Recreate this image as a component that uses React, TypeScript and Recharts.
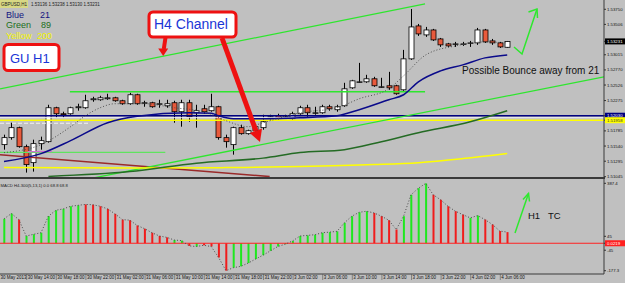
import { ComposedChart, Bar, Line, XAxis, YAxis, ReferenceLine } from 'recharts'

const FONT = '"Liberation Sans", Arial, sans-serif'
const BG = '#c0c0c0'

// GBPUSD H1 candles, bar 0 = 30 May 11:00
const open = [
  1.51563, 1.51676, 1.51837, 1.5153, 1.51272, 1.51579, 1.51611, 1.52159, 1.52062, 1.52062,
  1.52159, 1.52159, 1.52288, 1.52288, 1.52304, 1.5232, 1.52272, 1.52224, 1.52369, 1.5224,
  1.5224, 1.52224, 1.52191, 1.5224, 1.52095, 1.5224, 1.52078, 1.52143, 1.52111, 1.52175,
  1.51676, 1.51563, 1.51837, 1.5174, 1.51788, 1.51837, 1.52014, 1.5203, 1.52014, 1.51982,
  1.52062, 1.52159, 1.52078, 1.52078, 1.52175, 1.52127, 1.52191, 1.52481, 1.52578, 1.52578,
  1.52627, 1.52498, 1.52514, 1.52514, 1.52449, 1.52949, 1.53481, 1.53336, 1.53416, 1.53271,
  1.53191, 1.53191, 1.53191, 1.53207, 1.53207, 1.53416, 1.53239, 1.53207, 1.53136,
]
const high = [
  1.51724, 1.51917, 1.51853, 1.51563, 1.51643, 1.51692, 1.52207, 1.52175, 1.52095, 1.52175,
  1.52224, 1.52369, 1.52336, 1.52352, 1.52385, 1.52336, 1.52288, 1.52401, 1.52385, 1.52272,
  1.52256, 1.52288, 1.52288, 1.52272, 1.52288, 1.52288, 1.52207, 1.52207, 1.52385, 1.52191,
  1.51724, 1.51853, 1.51885, 1.51804, 1.51885, 1.52046, 1.52046, 1.52062, 1.52046, 1.52095,
  1.52191, 1.52207, 1.52175, 1.52207, 1.52207, 1.52207, 1.52562, 1.5261, 1.52884, 1.52691,
  1.52659, 1.52643, 1.52739, 1.5253, 1.53094, 1.53755, 1.53513, 1.53465, 1.53433, 1.53287,
  1.53207, 1.53223, 1.53223, 1.53239, 1.53449, 1.53433, 1.53271, 1.53223, 1.53238,
]
const low = [
  1.51482, 1.51643, 1.51514, 1.51111, 1.51127, 1.51482, 1.51595, 1.51998, 1.51998, 1.52046,
  1.52111, 1.52143, 1.52256, 1.52272, 1.52288, 1.52256, 1.52207, 1.52207, 1.52207, 1.52175,
  1.52159, 1.52159, 1.52159, 1.51917, 1.51853, 1.51933, 1.51837, 1.52062, 1.52095, 1.51643,
  1.51514, 1.51401, 1.51724, 1.51724, 1.51756, 1.51804, 1.51966, 1.51966, 1.51982, 1.51966,
  1.52046, 1.52014, 1.52046, 1.52062, 1.52111, 1.52095, 1.52175, 1.52465, 1.52562, 1.52562,
  1.52498, 1.52481, 1.52449, 1.52369, 1.52433, 1.52933, 1.5332, 1.53304, 1.53239, 1.53142,
  1.53142, 1.53142, 1.53158, 1.53142, 1.53175, 1.53207, 1.53175, 1.53126, 1.5313,
]
const close = [
  1.51676, 1.51837, 1.5153, 1.5124, 1.51579, 1.51627, 1.52159, 1.52062, 1.52046, 1.52159,
  1.52175, 1.52272, 1.52304, 1.5232, 1.5232, 1.52272, 1.52224, 1.52369, 1.52224, 1.5224,
  1.52175, 1.52224, 1.52224, 1.52095, 1.5224, 1.52014, 1.52111, 1.52095, 1.52175, 1.51676,
  1.51611, 1.51837, 1.5174, 1.51788, 1.51853, 1.51933, 1.52014, 1.51982, 1.52014, 1.52062,
  1.52159, 1.52078, 1.52078, 1.52175, 1.52143, 1.52175, 1.52465, 1.52594, 1.52578, 1.52627,
  1.52514, 1.52498, 1.52481, 1.52385, 1.52949, 1.53465, 1.53352, 1.53416, 1.53255, 1.53175,
  1.53158, 1.53191, 1.53191, 1.53207, 1.53416, 1.53223, 1.53207, 1.53142, 1.53231,
]

// moving averages, read at a few bars and joined
const blueAt = [0, 5, 9, 14, 18, 25, 28, 29, 31, 35, 40, 45, 48, 52, 54, 56, 59, 62, 65, 68]
const blueMA = [
  1.51289, 1.51418, 1.51627, 1.51917, 1.52022, 1.52078, 1.5207, 1.5203, 1.51982, 1.51982,
  1.51998, 1.5203, 1.52127, 1.52288, 1.52369, 1.52578, 1.52755, 1.52852, 1.52965, 1.53013,
]
const greenAt = [6, 17, 26, 35, 40, 46, 51, 56, 63, 68]
const greenMA = [1.5105, 1.51127, 1.51264, 1.51345, 1.51434, 1.51482, 1.51611, 1.51756, 1.51933, 1.52111]
const yellowAt = [0, 18, 30, 40, 50, 56, 62, 68]
const yellowMA = [1.51192, 1.51184, 1.51192, 1.51208, 1.5124, 1.51272, 1.51337, 1.51418]
const fastAt = [0, 5, 9, 11, 13, 15, 19, 23, 27, 30, 33, 35, 40, 45, 48, 52, 54, 57, 61, 65, 68]
const fastMA = [
  1.51434, 1.51563, 1.51853, 1.5203, 1.52159, 1.52224, 1.52224, 1.52159, 1.52095, 1.51949,
  1.51853, 1.51917, 1.52078, 1.52159, 1.52304, 1.52465, 1.52675, 1.53013, 1.53158, 1.53223, 1.53207,
]

// MACD H4 histogram, 1 = green bar, 0 = red bar
const macd = [
  158, 192, 153, 47, 58, 68, 175, 213, 222, 239,
  245, 251, 249, 239, 222, 190, 153, 149, 115, 94,
  68, 47, 38, 21, 17, -17, -21, -13, -21, -92,
  -177, -158, -149, -128, -102, -77, -49, -21, -6, 15,
  47, 51, 55, 68, 72, 77, 132, 175, 200, 207,
  196, 175, 149, 89, 175, 313, 356, 387, 313, 281,
  239, 207, 185, 164, 179, 153, 121, 79, 72,
]
const macdGreen = [
  1, 1, 0, 1, 1, 1, 1, 1, 1, 1,
  1, 0, 0, 0, 0, 0, 0, 0, 0, 0,
  0, 0, 0, 1, 1, 0, 1, 0, 0, 0,
  0, 1, 1, 1, 1, 1, 1, 1, 1, 1,
  1, 1, 1, 1, 1, 1, 1, 1, 1, 1,
  0, 0, 0, 0, 1, 1, 1, 1, 0, 0,
  0, 0, 0, 1, 1, 0, 0, 0, 0,
]

const priceTicks = [1.5375, 1.53506, 1.53015, 1.5277, 1.52526, 1.52275, 1.51785, 1.5154, 1.51295, 1.51045]
const lastPrice = 1.53231
const blueLevel = 1.5203
const yellowLevel = 1.51958
const macdTicks = [387.4, 45, 0, -45, -177.3]
const timeAt = [-0.54, 3, 7, 11, 15, 19, 23, 27, 31, 35, 39, 43, 47, 51, 55, 59, 63, 67]
const timeLabels = [
  '30 May 2013', '30 May 14:00', '30 May 18:00', '30 May 22:00', '31 May 02:00', '31 May 06:00',
  '31 May 10:00', '31 May 14:00', '31 May 18:00', '31 May 22:00', '3 Jun 02:00', '3 Jun 06:00',
  '3 Jun 10:00', '3 Jun 14:00', '3 Jun 18:00', '3 Jun 22:00', '4 Jun 02:00', '4 Jun 06:00',
]

// drawn objects (bar index, price)
const chanUpper = [[-0.54, 1.52465], [56.9, 1.53836]]
const chanLower = [[12.3, 1.5103], [81.08, 1.52659]]
const flatGreen = [[8.9, 1.52417], [56.9, 1.52417]]
const flatLight = [[-0.54, 1.51438], [21.8, 1.51438]]
const flatPink = [[3.2, 1.5145], [6.5, 1.5145]]
const maroonLine = [[-0.54, 1.51401], [35.9, 1.51047]]
const dashedWhite = [[-0.54, 1.51909], [11.6, 1.51909]]

const X_DOMAIN = [-0.54, 81.08]

const priceData = open.map((o, i) => ({
  i,
  open: o,
  high: high[i],
  low: low[i],
  close: close[i],
  blue: null,
  green: null,
  yellow: null,
  fast: null,
}))
blueAt.forEach((k, j) => { priceData[k].blue = blueMA[j] })
greenAt.forEach((k, j) => { priceData[k].green = greenMA[j] })
yellowAt.forEach((k, j) => { priceData[k].yellow = yellowMA[j] })
fastAt.forEach((k, j) => { priceData[k].fast = fastMA[j] })

const macdData = macd.map((v, i) => ({ i, macd: v, up: macdGreen[i] === 1 }))

const seg = (s) => [{ x: s[0][0], y: s[0][1] }, { x: s[1][0], y: s[1][1] }]

function Candle(props) {
  const { x, y, width, height, payload } = props
  const top = Math.min(y, y + height)
  const h = Math.abs(height)
  const k = h / (payload.high - payload.low)
  const cx = Math.round(x + width / 2) + 0.5
  const yO = top + (payload.high - payload.open) * k
  const yC = top + (payload.high - payload.close) * k
  const bodyTop = Math.min(yO, yC)
  const bodyH = Math.max(Math.abs(yO - yC), 0.6)
  const bull = payload.close >= payload.open
  return (
    <g>
      <line x1={cx} x2={cx} y1={top} y2={top + h} stroke="#000" strokeWidth={1} />
      <rect
        x={cx - 2.5}
        y={bodyTop}
        width={5}
        height={bodyH}
        fill={bull ? '#ffffff' : '#e85a3c'}
        stroke="#000"
        strokeWidth={0.8}
      />
    </g>
  )
}

function MacdBar(props) {
  const { x, y, width, height, payload } = props
  const top = Math.min(y, y + height)
  return (
    <rect
      x={x + width / 2 - 1}
      y={top}
      width={2}
      height={Math.abs(height)}
      fill={payload.up ? '#1ee81e' : '#f01c1c'}
    />
  )
}

function PriceTick(props) {
  const { x, y, payload } = props
  const v = payload.value
  const txt = v.toFixed(5)
  let bg = null
  let fg = '#111'
  if (v === lastPrice) { bg = '#000'; fg = '#fff' }
  if (v === blueLevel) { bg = '#000080'; fg = '#fff' }
  if (v === yellowLevel) { bg = '#ffff00'; fg = '#333' }
  return (
    <g>
      {bg && <rect x={x - 2} y={y - 3} width={21} height={6} fill={bg} />}
      <text x={x} y={y} dy="0.35em" fontSize={4.3} fill={fg} fontFamily={FONT}>{txt}</text>
    </g>
  )
}

function MacdTick(props) {
  const { x, y, payload } = props
  const v = payload.value
  if (v === 0) {
    return (
      <g>
        <rect x={x - 2} y={y - 3} width={21} height={6} fill="#ff2020" />
        <text x={x} y={y} dy="0.35em" fontSize={4.3} fill="#fff" fontFamily={FONT}>0.0219</text>
      </g>
    )
  }
  return (
    <text x={x} y={y} dy="0.35em" fontSize={4.3} fill="#111" fontFamily={FONT}>{String(v)}</text>
  )
}

function TimeTick(props) {
  const { x, y, payload } = props
  const n = timeAt.indexOf(payload.value)
  const dx = n === 0 ? 0.5 : 1.5
  return (
    <g>
      {n > 0 && <line x1={x + 0.5} x2={x + 0.5} y1={y - 2} y2={y + 4} stroke="#555" strokeWidth={0.6} />}
      <text x={x + dx} y={y} dy="0.75em" fontSize={4.5} fill="#111" fontFamily={FONT}>{timeLabels[n]}</text>
    </g>
  )
}

function Annotations() {
  return (
    <svg
      width={625}
      height={283}
      style={{ position: 'absolute', left: 0, top: 0, pointerEvents: 'none' }}
      fontFamily={FONT}
    >
      {/* header and legend */}
      <rect x={0} y={0} width={28} height={8} fill="#d8d884" />
      <text x={1} y={5.8} fontSize={4.5} fill="#222">GBPUSD,H1</text>
      <text x={31} y={5.8} fontSize={4.5} fill="#222">1.53136 1.53238 1.53130 1.53231</text>
      <text x={6} y={17.5} fontSize={9} fill="#141480">Blue</text>
      <text x={40} y={17.5} fontSize={9} fill="#141480">21</text>
      <text x={6} y={28.2} fontSize={9} fill="#1b6e1b">Green</text>
      <text x={41} y={28.2} fontSize={9} fill="#1b6e1b">89</text>
      <text x={6} y={38.9} fontSize={9} fill="#f4f400">Yellow</text>
      <text x={37} y={38.9} fontSize={9} fill="#f4f400">200</text>

      {/* callout boxes */}
      <rect x={4} y={44.5} width={55} height={26} rx={4} fill="#fff" stroke="#ee1111" strokeWidth={3} />
      <text x={10} y={62.6} fontSize={13} fill="#1a35d6">GU H1</text>
      <rect x={149} y={12} width={87} height={25} rx={4} fill="#fff" stroke="#ee1111" strokeWidth={3} />
      <text x={154} y={29.2} fontSize={14} fill="#1a35d6">H4 Channel</text>

      {/* red arrows */}
      <line x1={165.5} y1={37.5} x2={163.8} y2={49} stroke="#ee1111" strokeWidth={4} />
      <polygon points="163.2,56 158.2,48.5 168.2,48.5" fill="#ee1111" />
      <line x1={222} y1={38} x2={255.9} y2={130.7} stroke="#ee1111" strokeWidth={5} />
      <polygon points="260,142 262,128.5 249.8,132.9" fill="#ee1111" />

      {/* green arrows */}
      <polyline points="514,47 522,54 537,9" fill="none" stroke="#2ee82e" strokeWidth={1.5} />
      <polyline points="528.5,12 537,9 537.5,18" fill="none" stroke="#2ee82e" strokeWidth={1.5} />
      <line x1={515} y1={233} x2={528.5} y2={193.5} stroke="#2ee82e" strokeWidth={1.5} />
      <polyline points="523,199.5 528.5,193.5 529.5,201.5" fill="none" stroke="#2ee82e" strokeWidth={1.5} />

      <text x={462} y={73.5} fontSize={10} fill="#111">Possible Bounce away from 21</text>
      <text x={528} y={218.5} fontSize={9.5} fill="#111">H1</text>
      <text x={548} y={218.5} fontSize={9.5} fill="#111">TC</text>

      <text x={0.5} y={186.5} fontSize={4.2} fill="#222">MACD H4-300(5,13,1) 0.0 68.8 68.8</text>
    </svg>
  )
}

export default function App() {
  return (
    <div
      style={{
        position: 'absolute',
        left: 0,
        top: 0,
        width: 625,
        height: 283,
        background: BG,
        overflow: 'hidden',
        fontFamily: FONT,
      }}
    >
      {/* price panel */}
      <div style={{ position: 'absolute', left: 0, top: 0 }}>
        <ComposedChart width={625} height={181} data={priceData} margin={{ top: 0, right: 0, bottom: 4, left: 0 }}>
          <XAxis type="number" dataKey="i" domain={X_DOMAIN} allowDataOverflow hide />
          <YAxis
            orientation="right"
            width={21}
            domain={[1.5104, 1.539]}
            allowDataOverflow
            ticks={[...priceTicks, lastPrice, blueLevel, yellowLevel]}
            interval={0}
            tickSize={2}
            tickMargin={1}
            tick={(p) => <PriceTick {...p} />}
            tickLine={{ stroke: '#333' }}
            axisLine={{ stroke: '#3a3a3a' }}
          />
          <ReferenceLine y={blueLevel} stroke="#000080" strokeWidth={1.5} />
          <ReferenceLine y={1.51998} stroke="#f2f2f2" strokeWidth={1} />
          <ReferenceLine y={yellowLevel} stroke="#ffff00" strokeWidth={1.5} />
          <ReferenceLine segment={seg(dashedWhite)} stroke="#f4f4f4" strokeDasharray="4 2" ifOverflow="hidden" />
          <ReferenceLine segment={seg(flatLight)} stroke="#5fe35f" strokeWidth={1.2} ifOverflow="hidden" />
          <ReferenceLine segment={seg(flatPink)} stroke="#d070d0" strokeWidth={1.2} ifOverflow="hidden" />
          <ReferenceLine segment={seg(maroonLine)} stroke="#9a2a2a" strokeWidth={1.5} ifOverflow="hidden" />
          <ReferenceLine segment={seg(flatGreen)} stroke="#2ee62e" strokeWidth={1.5} ifOverflow="hidden" />
          <ReferenceLine segment={seg(chanUpper)} stroke="#2ee62e" strokeWidth={1.3} ifOverflow="hidden" />
          <ReferenceLine segment={seg(chanLower)} stroke="#2ee62e" strokeWidth={1.3} ifOverflow="hidden" />
          <Line dataKey="yellow" type="monotone" stroke="#ffff00" strokeWidth={1.5} dot={false} activeDot={false} connectNulls isAnimationActive={false} />
          <Line dataKey="green" type="monotone" stroke="#246b24" strokeWidth={1.5} dot={false} activeDot={false} connectNulls isAnimationActive={false} />
          <Bar dataKey={(d) => [d.low, d.high]} barSize={5} shape={(p) => <Candle {...p} />} isAnimationActive={false} />
          <Line dataKey="blue" type="monotone" stroke="#0a0a8a" strokeWidth={1.5} dot={false} activeDot={false} connectNulls isAnimationActive={false} />
          <Line dataKey="fast" type="monotone" stroke="#505050" strokeWidth={1} strokeDasharray="1 2" dot={false} activeDot={false} connectNulls isAnimationActive={false} />
        </ComposedChart>
      </div>

      {/* panel separator */}
      <div style={{ position: 'absolute', left: 0, top: 177, width: 605, height: 2, background: '#3a3a3a' }} />

      {/* MACD panel */}
      <div style={{ position: 'absolute', left: 0, top: 179 }}>
        <ComposedChart width={625} height={104} data={macdData} margin={{ top: 0, right: 0, bottom: 0, left: 0 }}>
          <XAxis
            type="number"
            dataKey="i"
            domain={X_DOMAIN}
            allowDataOverflow
            ticks={timeAt}
            interval={0}
            height={9}
            tickSize={1}
            tickMargin={1}
            tick={(p) => <TimeTick {...p} />}
            tickLine={false}
            axisLine={{ stroke: '#3a3a3a' }}
          />
          <YAxis
            orientation="right"
            width={21}
            domain={[-198.6, 415.2]}
            allowDataOverflow
            ticks={macdTicks}
            interval={0}
            tickSize={2}
            tickMargin={1}
            tick={(p) => <MacdTick {...p} />}
            tickLine={{ stroke: '#333' }}
            axisLine={{ stroke: '#3a3a3a' }}
          />
          <Bar dataKey="macd" barSize={2} shape={(p) => <MacdBar {...p} />} isAnimationActive={false} />
          <ReferenceLine y={0} stroke="#ff2020" strokeWidth={1.2} />
          <Line dataKey="macd" type="linear" stroke="#4a4a4a" strokeWidth={1} strokeDasharray="1 2" dot={false} activeDot={false} isAnimationActive={false} />
        </ComposedChart>
      </div>

      <Annotations />
    </div>
  )
}
